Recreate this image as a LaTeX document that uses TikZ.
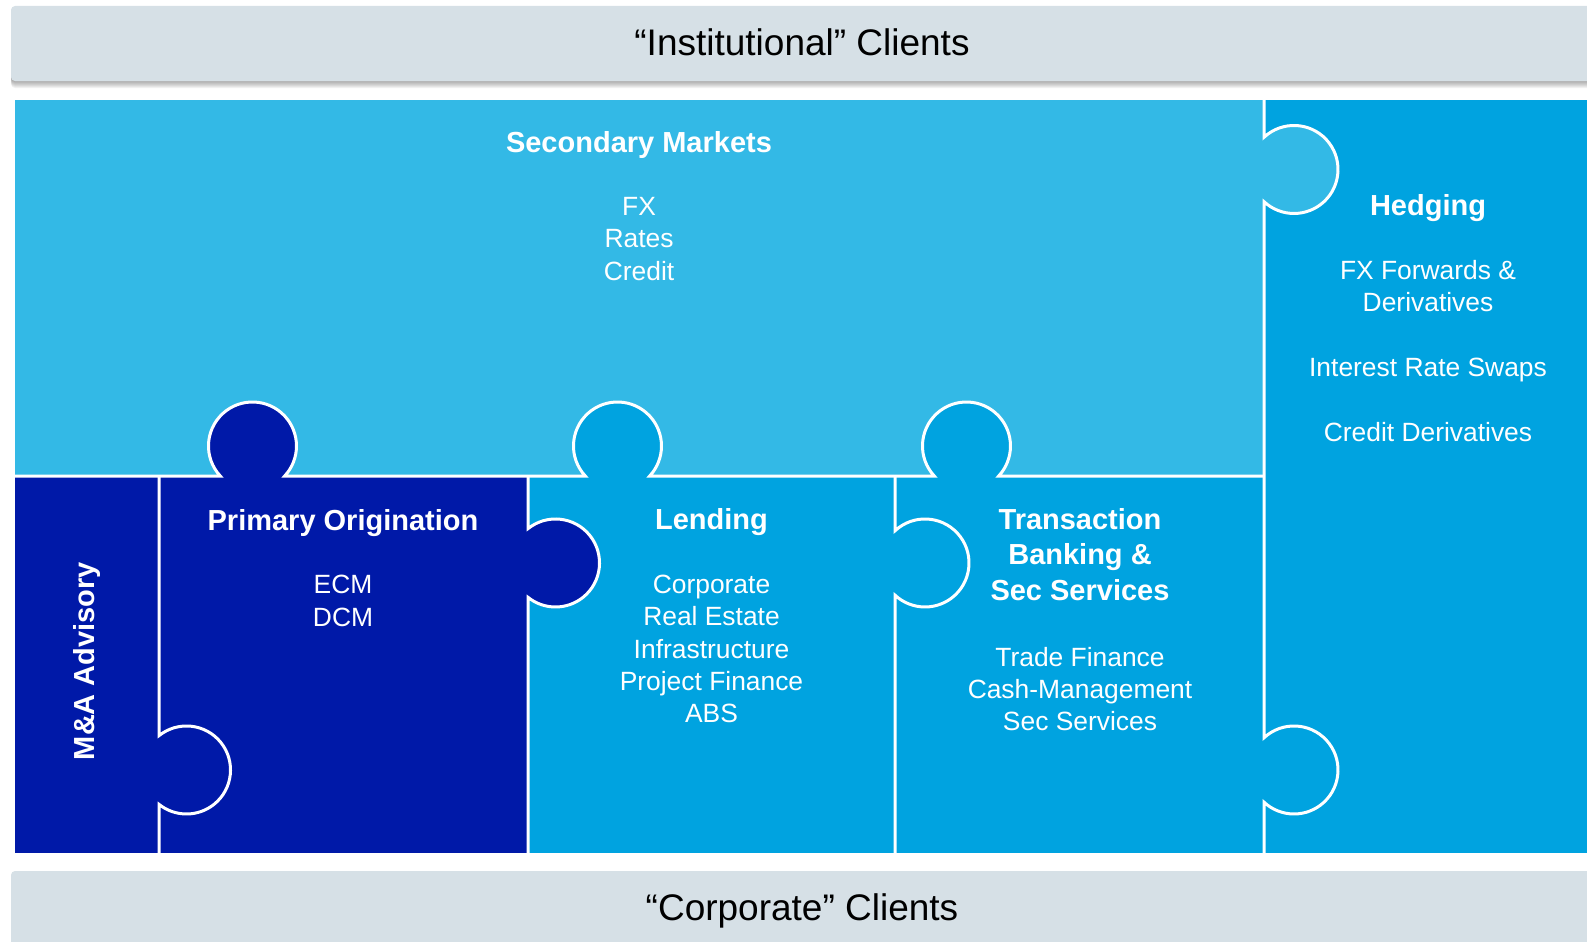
\documentclass[tikz,border=0pt]{standalone}
\usepackage{fontspec}
\setmainfont{Liberation Sans}
\usetikzlibrary{calc}
\definecolor{bannergray}{RGB}{214,224,230}
\definecolor{skyblue}{RGB}{51,185,230}
\definecolor{midblue}{RGB}{0,163,224}
\definecolor{deepblue}{RGB}{0,25,168}

\begin{document}
\begin{tikzpicture}[x=1pt,y=-1pt,
        seam/.style={draw=white,line width=3pt},
        head/.style={font=\fontsize{37}{44}\selectfont,text=black},
        title/.style={font=\fontsize{29}{35.4}\selectfont\bfseries,text=white,align=center},
        body/.style={font=\fontsize{26.4}{32.4}\selectfont,text=white,align=center}]
            \useasboundingbox (0,0) rectangle (1587,942);
            \coordinate (po) at (252.5,446);
            \coordinate (le) at (617.5,446);
            \coordinate (tb) at (966.5,446);
            \coordinate (sm) at (1294,169.5);
            \coordinate (ma) at (186.5,770);
            \coordinate (pr) at (555.5,563);
            \coordinate (lr) at (925,563);
            \coordinate (tr) at (1294,770);

            \foreach \s in {1,...,7}
                \fill[black,opacity=0.05,rounded corners=4pt] (11,6+\s) rectangle (1600,81+\s);
            \fill[bannergray,rounded corners=4pt] (11,6) rectangle (1600,81);
            \fill[bannergray,rounded corners=4pt] (11,871) rectangle (1600,960);

            \fill[skyblue] (15,100) rectangle (1264,476);
            \fill[midblue] (1264,100) rectangle (1587,853);
            \fill[deepblue] (15,476) rectangle (528,853);
            \fill[midblue] (528,476) rectangle (1264,853);

            \fill[deepblue] (po) circle[radius=44];
            \fill[deepblue] (pr) circle[radius=44];
            \fill[midblue] (le) circle[radius=44];
            \fill[midblue] (tb) circle[radius=44];
            \fill[skyblue] (sm) circle[radius=44];

            \draw[seam] (15,476) -- ($(po)+(-32.2,30)$) arc[start angle=137,end angle=403,radius=44]
                -- ($(le)+(-32.2,30)$) arc[start angle=137,end angle=403,radius=44]
                -- ($(tb)+(-32.2,30)$) arc[start angle=137,end angle=403,radius=44] -- (1264,476);
            \draw[seam] (1264,100) -- ($(sm)+(-30,-32.2)$) arc[start angle=227,end angle=493,radius=44]
                -- ($(tr)+(-30,-32.2)$) arc[start angle=227,end angle=493,radius=44] -- (1264,853);
            \draw[seam] (159,476) -- ($(ma)+(-27.5,-34.35)$) arc[start angle=231.3,end angle=488.7,radius=44] -- (159,853);
            \draw[seam] (528,476) -- ($(pr)+(-27.5,-34.35)$) arc[start angle=231.3,end angle=488.7,radius=44] -- (528,853);
            \draw[seam] (895,476) -- ($(lr)+(-30,-32.2)$) arc[start angle=227,end angle=493,radius=44] -- (895,853);

            \node[head] (inst) at (802,42.5) {“Institutional” Clients};
            \node[head] (corp) at (802,911) {“Corporate” Clients};

            \node[title] (smt) at (639,145) {Secondary Markets};
            \node[body] (smb) at (639,239) {FX\\Rates\\Credit};
            \node[title] (hdt) at (1428,208.5) {Hedging};
            \node[body] (hdb) at (1428,351) {FX Forwards \&\\Derivatives\\[32.4pt]Interest Rate Swaps\\[32.4pt]Credit Derivatives};
            \node[title] (pot) at (343,523) {Primary Origination};
            \node[body] (pob) at (343,601) {ECM\\DCM};
            \node[title] (let) at (711.5,522) {Lending};
            \node[body] (leb) at (711.5,649) {Corporate\\Real Estate\\Infrastructure\\Project Finance\\ABS};
            \node[title] (tbt) at (1080,554.6) {Transaction\\Banking \&\\Sec Services};
            \node[body] (tbb) at (1080,689) {Trade Finance\\Cash-Management\\Sec Services};
            \node[title,rotate=90] (mat) at (87,661) {M\&A Advisory};
        \end{tikzpicture}
\end{document}
